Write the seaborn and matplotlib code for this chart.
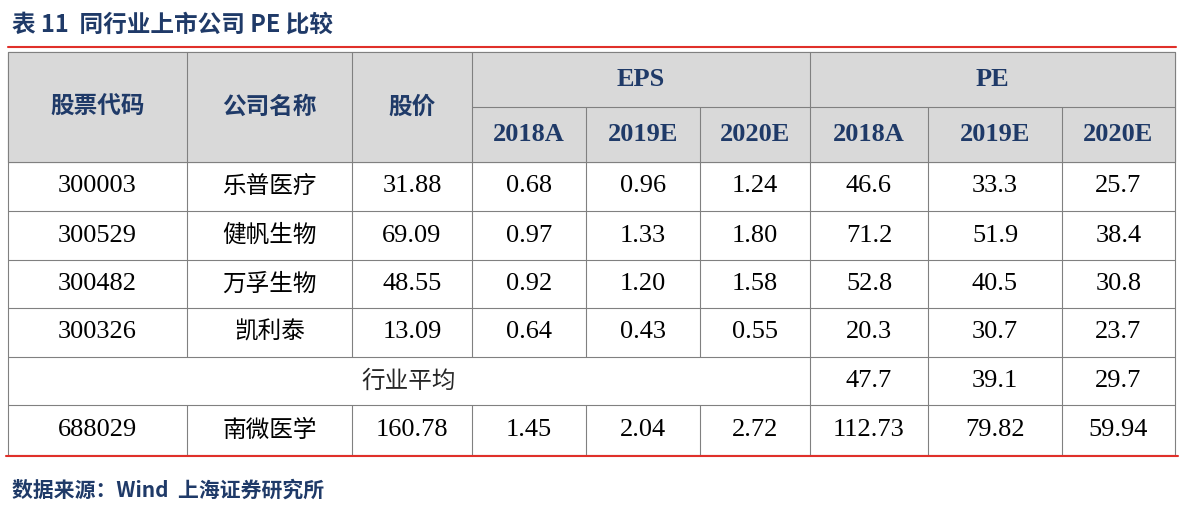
import matplotlib
matplotlib.use("Agg")
import matplotlib.pyplot as plt
import seaborn as sns

sns.set_theme(style="white")

title = "表 11  同行业上市公司 PE 比较"
source = "数据来源：Wind  上海证券研究所"
head_main = ["股票代码", "公司名称", "股价"]
groups = ["EPS", "PE"]
years = ["2018A", "2019E", "2020E"]
codes = ["300003", "300529", "300482", "300326"]
names = ["乐普医疗", "健帆生物", "万孚生物", "凯利泰"]
prices = ["31.88", "69.09", "48.55", "13.09"]
eps = [["0.68", "0.96", "1.24"], ["0.97", "1.33", "1.80"], ["0.92", "1.20", "1.58"], ["0.64", "0.43", "0.55"]]
pe = [["46.6", "33.3", "25.7"], ["71.2", "51.9", "38.4"], ["52.8", "40.5", "30.8"], ["20.3", "30.7", "23.7"]]
avg_label = "行业平均"
avg_pe = ["47.7", "39.1", "29.7"]
target = ["688029", "南微医学", "160.78", "1.45", "2.04", "2.72", "112.73", "79.82", "59.94"]

W, H = 1184, 515
fig = plt.figure(figsize=(W / 100, H / 100), dpi=100)
ax = fig.add_axes([0, 0, 1, 1])
ax.set_xlim(0, W); ax.set_ylim(H, 0); ax.axis("off")

navy = "#1f3a68"
cjk = "Noto Sans CJK SC"
serif = "Liberation Serif"
xs = [8, 187, 352, 472, 586, 700, 810, 928, 1062, 1175]
ys = [52, 107, 162, 211, 260, 308, 357, 405, 455]
cx = [(xs[i] + xs[i + 1]) / 2 for i in range(9)]

ax.text(12, 25, title, fontsize=17, fontweight="bold", color=navy, family=[cjk], va="center")
ax.plot([8, 1176], [47, 47], color="#e0302a", lw=1.5)
ax.add_patch(plt.Rectangle((xs[0], ys[0]), xs[-1] - xs[0], ys[2] - ys[0], color="#d9d9d9", zorder=0))

lc = "#808080"
for y in [ys[0], ys[2], ys[3], ys[4], ys[5], ys[6], ys[7], ys[8]]:
    ax.plot([xs[0], xs[-1]], [y, y], color=lc, lw=0.8)
ax.plot([xs[3], xs[-1]], [ys[1], ys[1]], color=lc, lw=0.8)
for i, x in enumerate(xs):
    if i in (0, 9, 6):
        ax.plot([x, x], [ys[0], ys[8]], color=lc, lw=0.8)
    elif i == 3:
        ax.plot([x, x], [ys[0], ys[6]], color=lc, lw=0.8); ax.plot([x, x], [ys[7], ys[8]], color=lc, lw=0.8)
    elif i in (1, 2):
        ax.plot([x, x], [ys[0], ys[6]], color=lc, lw=0.8); ax.plot([x, x], [ys[7], ys[8]], color=lc, lw=0.8)
    elif i in (4, 5):
        ax.plot([x, x], [ys[1], ys[6]], color=lc, lw=0.8); ax.plot([x, x], [ys[7], ys[8]], color=lc, lw=0.8)
    else:
        ax.plot([x, x], [ys[1], ys[8]], color=lc, lw=0.8)
ax.plot([6, 1178], [456, 456], color="#e0302a", lw=1.5)

for i, t in enumerate(head_main):
    ax.text(cx[i], (ys[0] + ys[2]) / 2, t, fontsize=17, fontweight="bold", color=navy, family=[cjk], ha="center", va="center")
ax.text((xs[3] + xs[6]) / 2, (ys[0] + ys[1]) / 2, groups[0], fontsize=19, fontweight="bold", color=navy, family=[serif], ha="center", va="center")
ax.text((xs[6] + xs[9]) / 2, (ys[0] + ys[1]) / 2, groups[1], fontsize=19, fontweight="bold", color=navy, family=[serif], ha="center", va="center")
for k in range(6):
    ax.text(cx[3 + k], (ys[1] + ys[2]) / 2, years[k % 3], fontsize=19, fontweight="bold", color=navy, family=[serif], ha="center", va="center")

def put(i, r, t):
    is_cjk = any(ord(c) > 255 for c in t)
    ax.text(cx[i], (ys[2 + r] + ys[3 + r]) / 2, t, fontsize=17 if is_cjk else 19, color="black",
            family=[cjk] if is_cjk else [serif], ha="center", va="center")

for r in range(4):
    row = [codes[r], names[r], prices[r]] + eps[r] + pe[r]
    for i, t in enumerate(row):
        put(i, r, t)
ax.text((xs[0] + xs[6]) / 2, (ys[6] + ys[7]) / 2, avg_label, fontsize=17, family=[cjk], ha="center", va="center")
for k in range(3):
    put(6 + k, 4, avg_pe[k])
for i, t in enumerate(target):
    put(i, 5, t)

ax.text(12, 490, source, fontsize=15, fontweight="bold", style="italic", color=navy, family=[cjk], va="center")
fig.savefig("out.png", dpi=100)
